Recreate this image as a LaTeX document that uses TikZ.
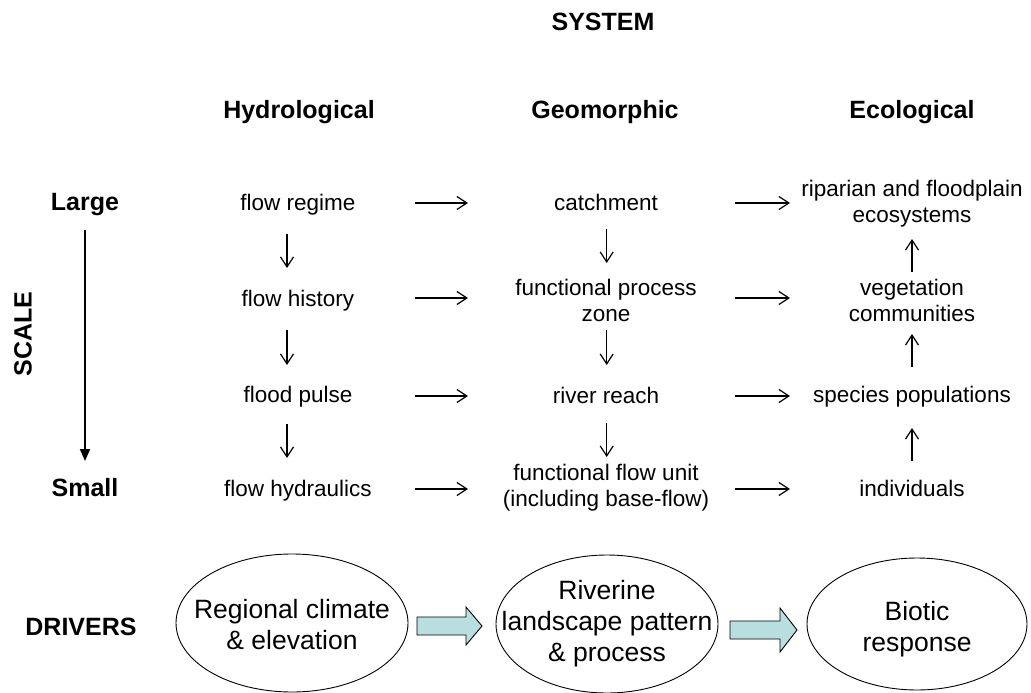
\documentclass[tikz,border=0pt]{standalone}
\usepackage{fontspec}
\setmainfont{Liberation Sans}
\usetikzlibrary{arrows.meta}
\definecolor{blockfill}{RGB}{185,222,224}
\tikzset{
  lbl/.style={inner sep=0pt, align=center, font=\fontsize{22.5}{26}\selectfont},
  lblb/.style={lbl, anchor=base},
  hdr/.style={inner sep=0pt, align=center, font=\bfseries\fontsize{25}{30}\selectfont},
  harr/.style={line width=1.2pt, -{Straight Barb[length=10pt,width=13pt,line width=1.2pt]}},
  scalearr/.style={line width=1.8pt, -{Triangle[length=12pt,width=10pt]}},
  drvtext/.style={inner sep=0pt, align=center, font=\fontsize{26.5}{31}\selectfont},
  drvline/.style={draw, line width=0.9pt},
  blockarr/.style={draw=black, line width=0.9pt, fill=blockfill}
}
\begin{document}
\begin{tikzpicture}[x=1pt,y=-1pt]
\useasboundingbox (0,0) rectangle (1031,693);
% titles
\node[hdr] (sys) at (603,22) {SYSTEM};
\node[hdr] (hyd) at (299,112) {Hydrological};
\node[hdr] (geo) at (605,112) {Geomorphic};
\node[hdr] (eco) at (912,112) {Ecological};
\node[hdr] (large) at (85,205) {Large};
\node[hdr] (small) at (85,488) {Small};
\node[hdr, rotate=90] (scale) at (23,334) {SCALE};
\node[hdr] (drivers) at (81,627) {DRIVERS};
% hydrological column
\node[lblb] (h1) at (298,210) {flow regime};
\node[lblb] (h2) at (298,306) {flow history};
\node[lblb] (h3) at (298,402) {flood pulse};
\node[lblb] (h4) at (298,496) {flow hydraulics};
% geomorphic column
\node[lblb] (g1) at (606,210) {catchment};
\node[lbl] (g2) at (606,300) {functional process\\zone};
\node[lblb] (g3) at (606,403) {river reach};
\node[lbl] (g4) at (606,488) {functional flow unit\\(including base-flow)};
% ecological column
\node[lbl] (e1) at (912,204) {riparian and floodplain\\ecosystems};
\node[lbl] (e2) at (912,300) {vegetation\\communities};
\node[lblb] (e3) at (912,402) {species populations};
\node[lblb] (e4) at (912,496) {individuals};
% arrow end coordinates
\coordinate (xa1) at (415,0); \coordinate (xa2) at (468,0);
\coordinate (xb1) at (735,0); \coordinate (xb2) at (790,0);
\coordinate (r1) at (0,203); \coordinate (r2) at (0,298);
\coordinate (r3) at (0,396); \coordinate (r4) at (0,489);
% horizontal arrows
\foreach \r in {r1,r2,r3,r4}{
  \draw[harr] (xa1 |- \r) -- (xa2 |- \r);
  \draw[harr] (xb1 |- \r) -- (xb2 |- \r);
}
% hydrological down arrows
\draw[harr] (287,234) -- (287,268);
\draw[harr] (287,330) -- (287,365);
\draw[harr] (287,424) -- (287,458);
% geomorphic down arrows
\draw[harr] (606.7,229) -- (606.7,263);
\draw[harr] (606.7,330) -- (606.7,365);
\draw[harr] (606.7,423) -- (606.7,457);
% ecological up arrows
\draw[harr] (912,272) -- (912,239);
\draw[harr] (912,367) -- (912,334);
\draw[harr] (912,461) -- (912,428);
% scale arrow
\draw[scalearr] (large.south |- 0,230) -- (small.north |- 0,461);
% drivers
\node[drvtext] (d1) at (292,625) {Regional climate\\\& elevation};
\node[drvtext] (d2) at (607,624) {Riverine\\landscape pattern\\\& process};
\node[drvtext] (d3) at (917,629) {Biotic\\response};
\draw[drvline] (292,623) ellipse [x radius=116, y radius=69];
\draw[drvline] (607,624) ellipse [x radius=111, y radius=69];
\draw[drvline] (917,624) ellipse [x radius=110, y radius=66];
% block arrows
\draw[blockarr] (417,617) -- (466,617) -- (466,607) -- (482,626) -- (466,645) -- (466,635) -- (417,635) -- cycle;
\draw[blockarr] (730,621) -- (780,621) -- (780,608) -- (797,630) -- (780,652) -- (780,639) -- (730,639) -- cycle;
\end{tikzpicture}
\end{document}
